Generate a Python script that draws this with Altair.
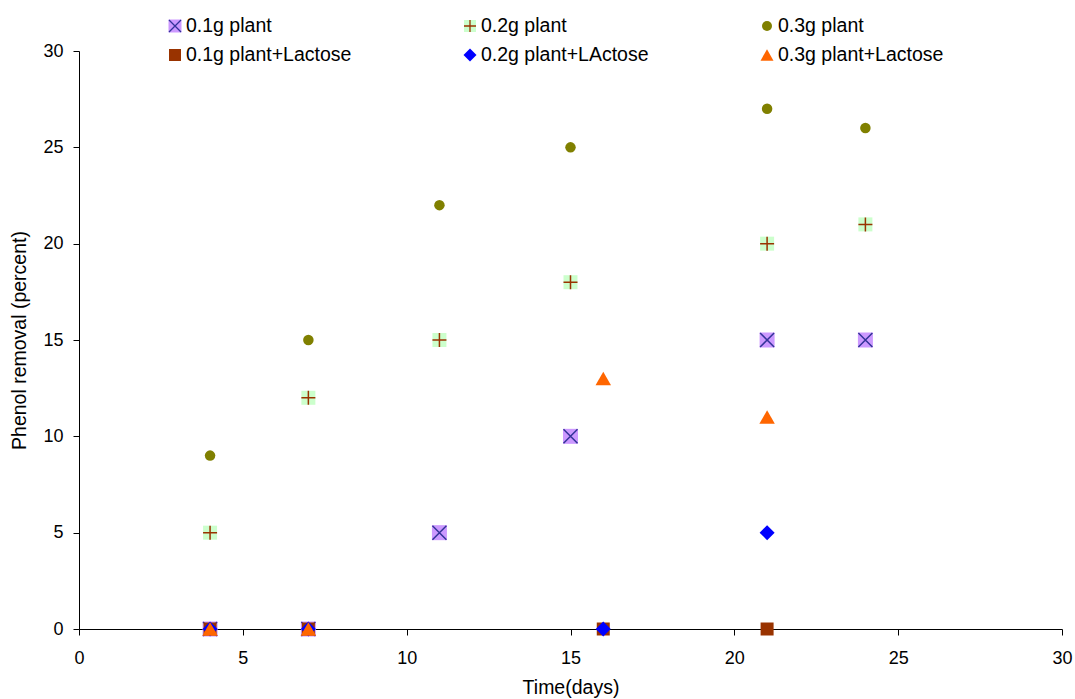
import altair as alt
import pandas as pd

# ---- data ----
series_names = ["0.1g plant", "0.2g plant", "0.3g plant",
                "0.1g plant+Lactose", "0.2g plant+LActose", "0.3g plant+Lactose"]

days_01 = [4, 7, 11, 15, 21, 24]
vals_01 = [0, 0, 5, 10, 15, 15]

days_02 = [4, 7, 11, 15, 21, 24]
vals_02 = [5, 12, 15, 18, 20, 21]

days_03 = [4, 7, 11, 15, 21, 24]
vals_03 = [9, 15, 22, 25, 27, 26]

days_01L = [4, 7, 16, 21]
vals_01L = [0, 0, 0, 0]

days_02L = [4, 7, 16, 21]
vals_02L = [0, 0, 0, 5]

days_03L = [4, 7, 16, 21]
vals_03L = [0, 0, 13, 11]

tick_values = [0, 5, 10, 15, 20, 25, 30]

FONT = "Liberation Sans"
W, H = 983, 578

xs = alt.Scale(domain=[0, 30], nice=False)
ys = alt.Scale(domain=[0, 30], nice=False)

X_PATH = "M-1,-1L1,1M-1,1L1,-1"
PLUS_PATH = "M0,-1L0,1M-1,0L1,0"


def df(d, v):
    return pd.DataFrame({"day": d, "val": v})


def pts(data, first=False, **mark):
    if first:
        enc = dict(
            x=alt.X("day:Q", scale=xs, axis=alt.Axis(values=tick_values, title="Time(days)")),
            y=alt.Y("val:Q", scale=ys, axis=alt.Axis(values=tick_values, title="Phenol removal (percent)")),
        )
    else:
        enc = dict(x=alt.X("day:Q", scale=xs), y=alt.Y("val:Q", scale=ys))
    return alt.Chart(data).mark_point(opacity=1, **mark).encode(**enc)


layers = []
d01 = df(days_01, vals_01)
layers.append(pts(d01, first=True, shape="square", filled=True, fill="#CC99FF", strokeWidth=0, size=225))
layers.append(pts(d01, shape=X_PATH, filled=False, stroke="#333399", strokeWidth=1.5, size=196))
d02 = df(days_02, vals_02)
layers.append(pts(d02, shape="square", filled=True, fill="#CCFFCC", strokeWidth=0, size=196))
layers.append(pts(d02, shape=PLUS_PATH, filled=False, stroke="#993300", strokeWidth=1.5, size=196))
layers.append(pts(df(days_03, vals_03), shape="circle", filled=True, fill="#808000", strokeWidth=0, size=110))
layers.append(pts(df(days_01L, vals_01L), shape="square", filled=True, fill="#993300", strokeWidth=0, size=169))
layers.append(pts(df(days_02L, vals_02L), shape="diamond", filled=True, fill="#0000FF", strokeWidth=0, size=225))
layers.append(pts(df(days_03L, vals_03L), shape="triangle-up", filled=True, fill="#FF6600", strokeWidth=0, size=240))

# ---- manual legend (layout positions, in pixels relative to plot area) ----
leg_col_x = [96, 391, 688]
leg_row_y = [-25, 4]
leg_specs = [
    [("square", "#CC99FF", 169), ("x", "#333399", 144)],
    [("square", "#CCFFCC", 144), ("plus", "#993300", 144)],
    [("circle", "#808000", 100)],
    [("square", "#993300", 144)],
    [("diamond", "#0000FF", 169)],
    [("triangle-up", "#FF6600", 169)],
]

for i, name in enumerate(series_names):
    col = i % 3
    row = i // 3
    sx = leg_col_x[col]
    sy = leg_row_y[row]
    ld = pd.DataFrame({"label": [name]})
    for shp, color, sz in leg_specs[i]:
        if shp == "x":
            m = alt.Chart(ld).mark_point(shape=X_PATH, filled=False, stroke=color, strokeWidth=1.3, size=sz, opacity=1)
        elif shp == "plus":
            m = alt.Chart(ld).mark_point(shape=PLUS_PATH, filled=False, stroke=color, strokeWidth=1.3, size=sz, opacity=1)
        else:
            m = alt.Chart(ld).mark_point(shape=shp, filled=True, fill=color, strokeWidth=0, size=sz, opacity=1)
        layers.append(m.encode(x=alt.value(sx), y=alt.value(sy)))
    layers.append(
        alt.Chart(ld).mark_text(align="left", baseline="middle", font=FONT, fontSize=19.5, color="#000000")
        .encode(x=alt.value(sx + 11), y=alt.value(sy), text="label:N")
    )

chart = alt.layer(*layers).properties(
    width=W, height=H,
    autosize=alt.AutoSizeParams(type="none"),
    padding={"left": 79, "top": 51, "right": 13, "bottom": 70},
).configure_view(stroke=None).configure_axis(
    grid=False,
    labelFlush=False,
    labelOverlap=False,
    domainColor="#000000",
    domainWidth=1,
    tickColor="#000000",
    tickSize=6,
    labelFont=FONT,
    labelFontSize=18,
    labelColor="#000000",
    titleFont=FONT,
    titleFontSize=19.5,
    titleFontWeight="normal",
    titleColor="#000000",
).configure_axisX(labelPadding=14, titlePadding=11).configure_axisY(labelPadding=10, titlePadding=13)

chart.save("out.html", embed_options={"renderer": "svg", "actions": False})
